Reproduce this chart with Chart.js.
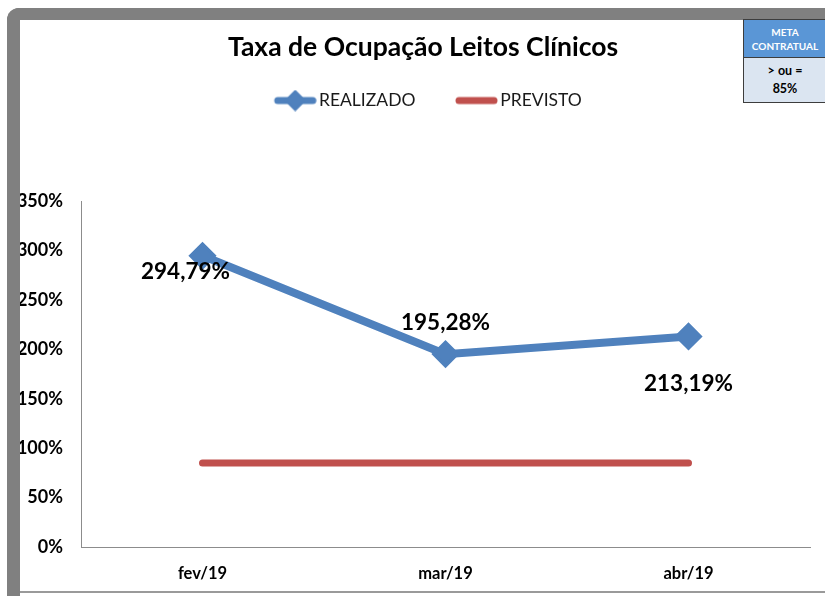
<!DOCTYPE html>
<html lang="pt-BR">
<head>
<meta charset="utf-8">
<script src="https://cdn.jsdelivr.net/npm/chart.js@4.4.1/dist/chart.umd.min.js"></script>
<style>
  html, body { margin: 0; padding: 0; background: #fff; overflow: hidden; }
  #wrap { position: absolute; left: 0; top: 0; width: 825px; height: 596px; }
  .frame {
    position: absolute; left: 7px; top: 8px; width: 840px; height: 600px;
    border-left: 13px solid #808080; border-top: 12px solid #808080;
    border-top-left-radius: 12px; box-sizing: border-box; pointer-events: none;
  }
  .bottom-line {
    position: absolute; left: 20px; top: 591px; width: 805px; height: 2px;
    background: #9a9a9a; pointer-events: none;
  }
  .meta {
    position: absolute; left: 743px; top: 19px; width: 84px; height: 84px;
    border: 1px solid #3d3d3d; box-sizing: border-box;
    font-family: Lato, "Open Sans", sans-serif; font-weight: bold; text-align: center;
  }
  .meta .head {
    background: #5a96d6; color: #fff; font-size: 10px; line-height: 14px;
    height: 38px; padding-top: 5px; box-sizing: border-box; border-bottom: 1px solid #3d3d3d;
  }
  .meta .body {
    background: #dbe5f1; color: #000; font-size: 12.5px; line-height: 18px;
    height: 44px; padding-top: 4px; box-sizing: border-box;
  }
</style>
</head>
<body>
<div id="wrap"><canvas id="chart" width="825" height="596"></canvas></div>
<div class="frame"></div>
<div class="bottom-line"></div>
<div class="meta">
  <div class="head">META<br>CONTRATUAL</div>
  <div class="body">&gt; ou =<br>85%</div>
</div>
<script>
// ---------- data ----------
const months = ["fev/19", "mar/19", "abr/19"];
const realizado = [294.79, 195.28, 213.19];
const previsto = [85, 85, 85];
const seriesNames = ["REALIZADO", "PREVISTO"];
const yMin = 0, yMax = 350, yStep = 50;

const BLUE = "#4f81bd";
const RED = "#c0504d";
const FONT = 'Lato, "Open Sans", sans-serif';

const pct = (v) => v.toFixed(2).replace(".", ",") + "%";

// ---------- legend symbols ----------
// symbol sits in the right part of the image, so the gap before it works as item spacing
function legendSymbol(kind) {
  const c = document.createElement("canvas");
  c.width = 79; c.height = 22;
  const g = c.getContext("2d");
  const x0 = 36, x1 = 79;
  g.lineCap = "round";
  g.strokeStyle = kind === "line-diamond" ? BLUE : RED;
  g.lineWidth = 7;
  g.beginPath(); g.moveTo(x0 + 4, 11); g.lineTo(x1 - 4, 11); g.stroke();
  if (kind === "line-diamond") {
    const cx = (x0 + x1) / 2;
    g.fillStyle = BLUE; g.lineJoin = "round"; g.lineWidth = 2;
    g.beginPath(); g.moveTo(cx, 1.5); g.lineTo(cx + 9.5, 11); g.lineTo(cx, 20.5); g.lineTo(cx - 9.5, 11);
    g.closePath(); g.fill(); g.stroke();
  }
  return c;
}

// ---------- plugins ----------
const legendGap = {
  id: "legendGap",
  beforeInit(chart) {
    const fit = chart.legend.fit;
    chart.legend.fit = function () {
      fit.bind(chart.legend)();
      this.height += 82;
    };
  },
};

// centre title and legend on the framed area instead of the canvas
const headerShift = {
  id: "headerShift",
  afterLayout(chart, args, opts) {
    if (chart.titleBlock) { chart.titleBlock.left += opts.title; chart.titleBlock.right += opts.title; }
    if (chart.legend) { chart.legend.left += opts.legend; chart.legend.right += opts.legend; }
  },
};

const valueLabels = {
  id: "valueLabels",
  afterDatasetsDraw(chart, args, opts) {
    const meta = chart.getDatasetMeta(0);
    const ctx = chart.ctx;
    ctx.save();
    ctx.font = "bold 22.5px " + FONT;
    ctx.fillStyle = "#000";
    ctx.textAlign = "center";
    ctx.textBaseline = "middle";
    meta.data.forEach((pt, i) => {
      const [dx, dy] = opts.offsets[i];
      ctx.fillText(pct(realizado[i]), pt.x + dx, pt.y + dy);
    });
    ctx.restore();
  },
};

// ---------- chart ----------
const symbols = [legendSymbol("line-diamond"), legendSymbol("line")];

new Chart(document.getElementById("chart").getContext("2d"), {
  type: "line",
  data: {
    labels: months,
    datasets: [
      {
        label: seriesNames[0],
        data: realizado,
        borderColor: BLUE,
        backgroundColor: BLUE,
        borderWidth: 8,
        pointStyle: "rectRot",
        pointRadius: 12,
        pointBorderWidth: 3,
        pointBorderColor: BLUE,
        pointBackgroundColor: BLUE,
        tension: 0,
        order: 0,
      },
      {
        label: seriesNames[1],
        data: previsto,
        borderColor: RED,
        backgroundColor: RED,
        borderWidth: 7,
        borderCapStyle: "round",
        pointRadius: 0,
        tension: 0,
        order: 1,
      },
    ],
  },
  options: {
    responsive: false,
    animation: false,
    layout: { padding: { left: 0, right: 13, top: 0, bottom: 0 } },
    scales: {
      x: {
        offset: true,
        grid: { display: false, drawTicks: false },
        border: { display: true, color: "#8c8c8c", width: 1 },
        ticks: { color: "#000", padding: 17, font: { family: FONT, size: 16.5, weight: "bold" } },
        afterFit(scale) { scale.height = 49; },
      },
      y: {
        min: yMin,
        max: yMax,
        grid: { display: false, drawTicks: false },
        border: { display: true, color: "#8c8c8c", width: 1 },
        ticks: {
          stepSize: yStep,
          color: "#000",
          padding: 18,
          font: { family: FONT, size: 18, weight: "bold" },
          callback: (v) => v + "%",
        },
        afterFit(scale) { scale.width = 81; },
      },
    },
    plugins: {
      title: {
        display: true,
        text: "Taxa de Ocupação Leitos Clínicos",
        color: "#000",
        font: { family: FONT, size: 26.5, weight: "bold" },
        padding: { top: 32, bottom: 18 },
      },
      legend: {
        display: true,
        labels: {
          usePointStyle: true,
          pointStyleWidth: 66,
          padding: 10,
          color: "#1a1a1a",
          font: { family: FONT, size: 17.5 },
          generateLabels: (chart) =>
            chart.data.datasets.map((ds, i) => ({
              text: ds.label,
              pointStyle: symbols[i],
              fillStyle: ds.borderColor,
              strokeStyle: ds.borderColor,
              lineWidth: 0,
              fontColor: "#1a1a1a",
              datasetIndex: i,
              hidden: false,
            })),
        },
      },
      tooltip: { enabled: false },
      headerShift: { title: 17, legend: 7 },
      valueLabels: { offsets: [[-17, 16], [0, -31], [0, 47]] },
    },
  },
  plugins: [legendGap, headerShift, valueLabels],
});
</script>
</body>
</html>
